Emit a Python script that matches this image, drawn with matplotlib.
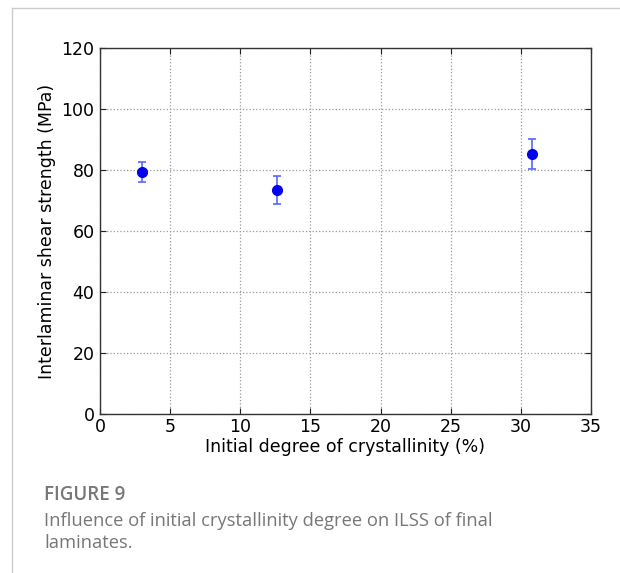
import matplotlib.pyplot as plt
from matplotlib.lines import Line2D

# data
crystallinity = [3.0, 12.6, 30.8]
ilss = [79.4, 73.4, 85.3]
ilss_err = [3.3, 4.6, 4.9]

x_ticks = [0, 5, 10, 15, 20, 25, 30, 35]
y_ticks = [0, 20, 40, 60, 80, 100, 120]

fig = plt.figure(figsize=(6.2, 5.73), dpi=100)
ax = fig.add_axes([0.1613, 0.2775, 0.7919, 0.6387])

ax.errorbar(crystallinity, ilss, yerr=ilss_err, fmt='o', color='#0000ee',
            markersize=7, ecolor='#5566ff', elinewidth=1.2, capsize=3,
            capthick=1.2, zorder=3)

ax.set_xlim(0, 35)
ax.set_ylim(0, 120)
ax.set_xticks(x_ticks)
ax.set_yticks(y_ticks)
ax.tick_params(direction='in', top=True, right=True, labelsize=12.5,
               length=4, width=0.8, colors='#222222', labelcolor='black')
ax.tick_params(axis='x', pad=3)
ax.tick_params(axis='y', pad=4)
ax.grid(True, linestyle=':', color='#999999', linewidth=0.9)
for s in ax.spines.values():
    s.set_linewidth(1.0)
    s.set_color('#333333')

ax.set_xlabel('Initial degree of crystallinity (%)', fontsize=12.5, labelpad=1)
ax.set_ylabel('Interlaminar shear strength (MPa)', fontsize=12.5, labelpad=4)

# card border
fig.add_artist(Line2D([12 / 620, 1], [1 - 8 / 573, 1 - 8 / 573],
                      transform=fig.transFigure, color='#cccccc', lw=1))
fig.add_artist(Line2D([12 / 620, 12 / 620], [0, 1 - 8 / 573],
                      transform=fig.transFigure, color='#cccccc', lw=1))

fig.text(44 / 620, 1 - 495 / 573, 'FIGURE 9', fontsize=13.5,
         family='Open Sans', color='#777777', va='center', weight='semibold')
fig.text(44 / 620, 1 - 532 / 573,
         'Influence of initial crystallinity degree on ILSS of final\nlaminates.',
         fontsize=13.2, family='Open Sans', color='#777777', va='center',
         linespacing=1.3)

fig.savefig('out.png', dpi=100)
